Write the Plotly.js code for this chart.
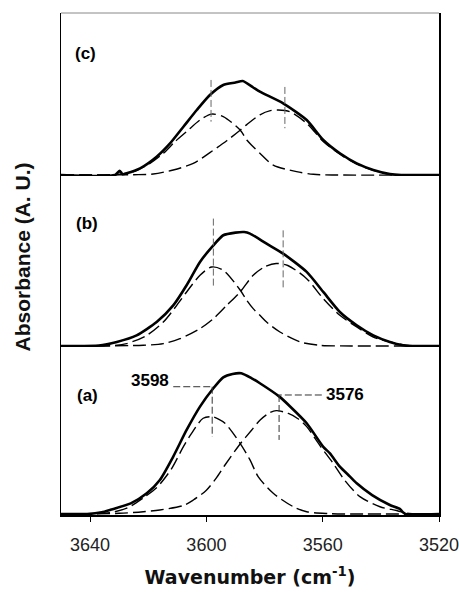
<!DOCTYPE html>
<html>
<head>
<meta charset="utf-8">
<script src="https://cdn.plot.ly/plotly-3.0.1.min.js"></script>
<style>html,body{margin:0;padding:0;background:#fff;}#chart{width:459px;height:592px;}</style>
</head>
<body>
<div id="chart"></div>
<script>
// ---------- Panel (a) ----------
const wnA_meas  = [3650,3641,3636,3633,3626,3620.5,3616,3611.4,3606.8,3602.2,3597.6,3594.2,3591,3588,3584.4,3581.6,3575,3571.3,3565.5,3559.8,3557.5,3554.1,3550.6,3548.3,3543,3536.9,3533.4,3532.3,3531.5,3520];
const absA_meas = [0,0,0.012,0.03,0.076,0.148,0.243,0.41,0.6,0.767,0.898,0.976,1.0,1.005,0.969,0.934,0.84,0.77,0.648,0.48,0.433,0.338,0.267,0.219,0.135,0.064,0.035,0.01,0,0];
const wnA_c1  = [3650,3640,3633,3627,3621.7,3617,3614.8,3611.9,3607.9,3605.1,3601.1,3598,3596,3593.6,3588.4,3585,3582.2,3577,3570.1,3565.5,3558,3550,3520];
const absA_c1 = [0,0.002,0.01,0.045,0.115,0.19,0.243,0.326,0.481,0.576,0.684,0.695,0.68,0.648,0.505,0.386,0.267,0.148,0.052,0.016,0.003,0,0];
const wnA_c2  = [3650,3630,3621.7,3616,3608,3604.5,3600,3596.5,3593.6,3588.4,3584.4,3581.6,3578.5,3576,3572,3568.5,3565.5,3561,3556.4,3552.5,3547.2,3540.3,3534.6,3531,3520];
const absA_c2 = [0,0.005,0.016,0.029,0.06,0.1,0.17,0.26,0.35,0.5,0.6,0.67,0.72,0.738,0.72,0.68,0.624,0.49,0.362,0.243,0.124,0.052,0.025,0.005,0];
// ---------- Panel (b) ----------
const wnB_meas  = [3650,3637,3630.8,3624,3617.1,3611.4,3606.8,3602.2,3597.6,3594.2,3590,3587,3585,3579.3,3573.6,3565.5,3559.8,3554.1,3548.3,3542.6,3536.9,3532.3,3530,3520];
const absB_meas = [0,0.003,0.029,0.076,0.171,0.29,0.434,0.6,0.719,0.791,0.81,0.814,0.803,0.731,0.66,0.529,0.386,0.243,0.148,0.076,0.029,0.005,0,0];
const wnB_c1  = [3650,3632,3627.4,3620.5,3614.8,3610.2,3606.8,3602.2,3598.2,3594.2,3588.4,3586.1,3583.9,3581.6,3579.3,3574.7,3567.8,3561,3550,3520];
const absB_c1 = [0,0.003,0.017,0.076,0.171,0.29,0.386,0.505,0.564,0.541,0.40,0.326,0.267,0.219,0.171,0.1,0.029,0.005,0,0];
const wnB_c2  = [3650,3621.7,3614.8,3609.1,3602.2,3597.6,3593,3588.4,3583.9,3580,3576,3572,3565.5,3559.8,3554.1,3548.3,3542.6,3536.9,3531,3520];
const absB_c2 = [0,0.005,0.017,0.052,0.124,0.195,0.29,0.386,0.505,0.565,0.589,0.575,0.481,0.338,0.219,0.136,0.064,0.029,0.005,0];
// ---------- Panel (c) ----------
const wnC_meas  = [3650,3631.4,3629.8,3628.8,3627.4,3622.8,3617.1,3612.5,3607.9,3603.3,3598.8,3594.2,3590,3587.5,3583.9,3581.6,3573.6,3565.5,3559.8,3554.1,3548.3,3542.6,3536.9,3533,3520];
const absC_meas = [0,0,0.03,0.005,0.012,0.048,0.131,0.226,0.345,0.464,0.571,0.643,0.66,0.671,0.625,0.595,0.512,0.393,0.25,0.155,0.083,0.036,0.007,0,0];
const wnC_c1  = [3650,3630,3625.1,3619.4,3614.8,3610.8,3606.8,3602.2,3598.2,3594.2,3588.4,3586.1,3583.9,3581.6,3577,3569,3563.2,3555,3520];
const absC_c1 = [0,0.005,0.024,0.083,0.155,0.238,0.31,0.393,0.435,0.417,0.321,0.25,0.202,0.155,0.071,0.024,0.005,0,0];
const wnC_c2  = [3650,3625,3618.3,3611.4,3604.5,3598.8,3593,3588.4,3586.1,3581.6,3578,3575.3,3571.3,3565.5,3559.8,3554.1,3548.3,3542.6,3536.9,3530,3520];
const absC_c2 = [0,0.002,0.007,0.036,0.083,0.16,0.245,0.32,0.36,0.43,0.46,0.464,0.452,0.369,0.24,0.148,0.078,0.033,0.005,0,0];
// ---------- Peak marker lines (wavenumber, top, bottom) ----------
const peakA_wn = [3598, 3575];  const peakA_top = [0.909, 0.85]; const peakA_bot = [0.55, 0.529];
const peakB_wn = [3597.6, 3573.6]; const peakB_top = [0.91, 0.826]; const peakB_bot = [0.41, 0.398];
const peakC_wn = [3598.4, 3573]; const peakC_top = [0.679, 0.629]; const peakC_bot = [0.381, 0.334];
const leaderA_end = [3611.4, 3560.3];
const peakLabels = ["3598", "3576"];
const panelLabels = ["(a)", "(b)", "(c)"];
const xTicks = [3640, 3600, 3560, 3520];

const solid = {color:'#000', width:2.6, shape:'spline', smoothing:0.6};
const comp  = {color:'#000', width:1.4, dash:'13px,5px', shape:'spline', smoothing:0.8};
const vdashB = {color:'#666', width:1, dash:'7px,3px'};
const vdashA = {color:'#333', width:1, dash:'7px,3px'};

function tr(x, y, ya, line){ return {x:x, y:y, xaxis:'x', yaxis:ya, mode:'lines', line:line, hoverinfo:'skip', showlegend:false}; }

const traces = [];
[[wnA_meas,absA_meas,wnA_c1,absA_c1,wnA_c2,absA_c2,'y'],
 [wnB_meas,absB_meas,wnB_c1,absB_c1,wnB_c2,absB_c2,'y2'],
 [wnC_meas,absC_meas,wnC_c1,absC_c1,wnC_c2,absC_c2,'y3']].forEach(p=>{
  traces.push(tr(p[2],p[3],p[6],comp));
  traces.push(tr(p[4],p[5],p[6],comp));
  traces.push(tr(p[0],p[1],p[6],solid));
});
[[peakA_wn,peakA_top,peakA_bot,'y',vdashA],[peakB_wn,peakB_top,peakB_bot,'y2',vdashB],[peakC_wn,peakC_top,peakC_bot,'y3',vdashB]].forEach(p=>{
  for(let i=0;i<2;i++) traces.push(tr([p[0][i],p[0][i]],[p[1][i],p[2][i]],p[3],p[4]));
});
// leaders in panel (a)
for(let i=0;i<2;i++) traces.push(tr([leaderA_end[i],peakA_wn[i]],[peakA_top[i],peakA_top[i]],'y',vdashA));

const yBase = {showline:true, linecolor:'#000', linewidth:1.5, mirror:true, showticklabels:false, ticks:'', showgrid:false, zeroline:false, anchor:'x', fixedrange:true};
const lblFont = {family:'Liberation Sans, Arial, sans-serif', size:17, color:'#000', weight:'bold'};

const layout = {
  width:459, height:592,
  margin:{l:61, r:20, t:13, b:77},
  paper_bgcolor:'#fff', plot_bgcolor:'#fff',
  showlegend:false,
  xaxis:{range:[3650,3520], tickvals:xTicks, ticktext:xTicks.map(String), ticks:'outside', ticklen:5, tickwidth:1, tickcolor:'#000',
         showline:true, linecolor:'#000', linewidth:1.5, showgrid:false, zeroline:false, anchor:'y', ticklabelstandoff:8,
         ticklabeloverflow:'allow',
         tickfont:{family:'Liberation Sans, Arial, sans-serif', size:18, color:'#222'},
         title:{text:'Wavenumber (cm<sup>-1</sup>)', standoff:16, font:{family:'DejaVu Sans, sans-serif', size:19, color:'#111', weight:'bold'}}},
  yaxis:Object.assign({}, yBase, {domain:[0,0.3347], range:[-0.00714,1.1929]}),
  yaxis2:Object.assign({}, yBase, {domain:[0.3347,0.6753], range:[-0.00714,1.2143]}),
  yaxis3:Object.assign({}, yBase, {domain:[0.6753,1], range:[-0.00714,1.1571]}),
  shapes:[{type:'line', xref:'paper', yref:'paper', x0:0, x1:1, y0:1, y1:1, line:{color:'#888', width:1}}],
  annotations:[
    {text:'Absorbance (A. U.)', xref:'paper', yref:'paper', x:-0.103, y:0.513, textangle:-90, showarrow:false, xanchor:'center', yanchor:'middle',
     font:{family:'Liberation Sans, Arial, sans-serif', size:21, color:'#111', weight:'bold'}},
    {text:panelLabels[0], xref:'x', yref:'y',  x:3641, y:0.845, showarrow:false, font:lblFont},
    {text:panelLabels[1], xref:'x', yref:'y2', x:3641.2, y:0.876, showarrow:false, font:lblFont},
    {text:panelLabels[2], xref:'x', yref:'y3', x:3641.5, y:0.869, showarrow:false, font:lblFont},
    {text:peakLabels[0], xref:'x', yref:'y', x:leaderA_end[0]+0.6, y:0.95, xanchor:'right', showarrow:false, font:lblFont},
    {text:peakLabels[1], xref:'x', yref:'y', x:leaderA_end[1]-0.6, y:0.855, xanchor:'left', showarrow:false, font:lblFont}
  ]
};
Plotly.newPlot('chart', traces, layout, {staticPlot:true, displayModeBar:false});
</script>
</body>
</html>
